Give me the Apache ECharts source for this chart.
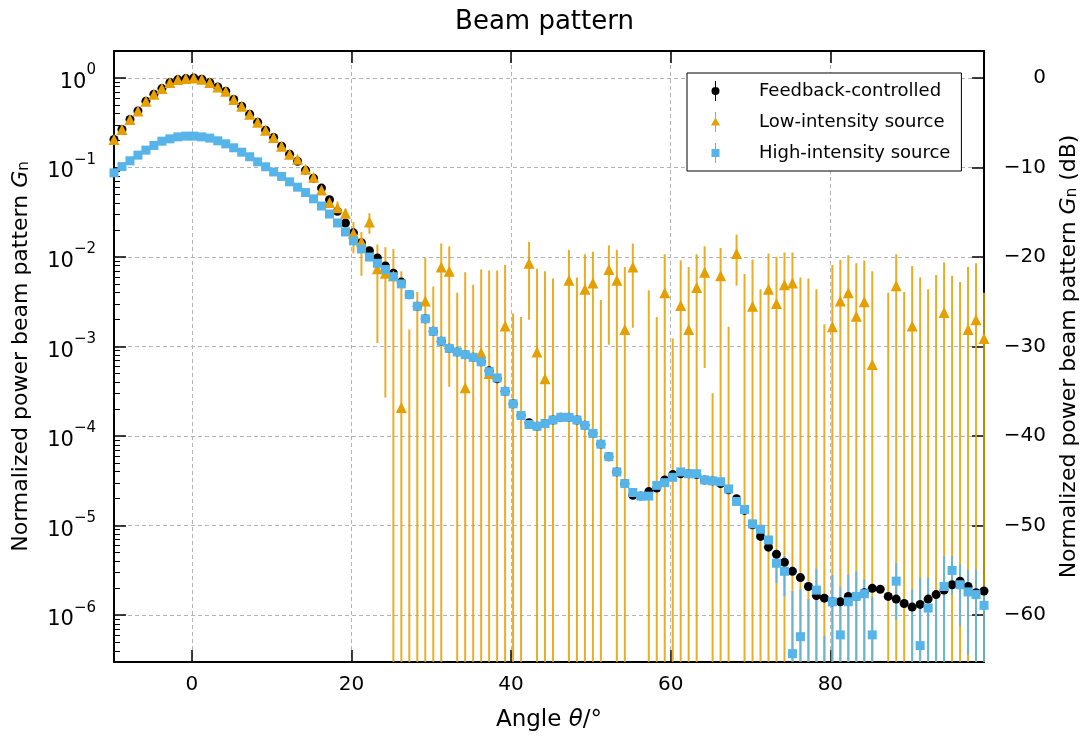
<!DOCTYPE html>
<html>
<head>
<meta charset="utf-8">
<script src="https://cdn.jsdelivr.net/npm/echarts@6/dist/echarts.min.js"></script>
<style>
html, body { margin: 0; padding: 0; background: #fff; }
#chart { width: 1089px; height: 739px; }
</style>
</head>
<body>
<div id="chart"></div>
<script>
// angle of each sample (degrees)
var angles = [
    -9.75, -8.75, -7.75, -6.75, -5.75, -4.75, -3.75, -2.75, -1.75, -0.75,
    0.25, 1.25, 2.25, 3.25, 4.25, 5.25, 6.25, 7.25, 8.25, 9.25,
    10.25, 11.25, 12.25, 13.25, 14.25, 15.25, 16.25, 17.25, 18.25, 19.25,
    20.25, 21.25, 22.25, 23.25, 24.25, 25.25, 26.25, 27.25, 28.25, 29.25,
    30.25, 31.25, 32.25, 33.25, 34.25, 35.25, 36.25, 37.25, 38.25, 39.25,
    40.25, 41.25, 42.25, 43.25, 44.25, 45.25, 46.25, 47.25, 48.25, 49.25,
    50.25, 51.25, 52.25, 53.25, 54.25, 55.25, 56.25, 57.25, 58.25, 59.25,
    60.25, 61.25, 62.25, 63.25, 64.25, 65.25, 66.25, 67.25, 68.25, 69.25,
    70.25, 71.25, 72.25, 73.25, 74.25, 75.25, 76.25, 77.25, 78.25, 79.25,
    80.25, 81.25, 82.25, 83.25, 84.25, 85.25, 86.25, 87.25, 88.25, 89.25,
    90.25, 91.25, 92.25, 93.25, 94.25, 95.25, 96.25, 97.25, 98.25, 99.25
];

// values in dB (read on the right axis); null = not shown
var feedbackDb = [
    -6.87, -5.76, -4.64, -3.68, -2.60, -1.82, -1.19, -0.52, -0.18, -0.07,
    0.00, -0.15, -0.52, -1.00, -1.48, -2.41, -3.16, -4.05, -4.94, -5.83,
    -6.65, -7.62, -8.51, -9.30, -10.3, -11.2, -12.3, -13.6, -14.9, -16.2,
    -17.3, -18.4, -19.3, -20.1, -21.0, -21.8, -22.8, -24.2, -25.5, -26.9,
    -28.3, -29.4, -30.2, -30.6, -30.9, -31.2, -31.7, -32.7, -33.6, -35.0,
    -36.4, -37.7, -38.5, -38.9, -38.6, -38.2, -37.9, -37.9, -38.2, -38.8,
    -39.7, -40.9, -42.3, -44.0, -45.3, -46.6, -46.7, -46.2, -45.8, -44.9,
    -44.3, -44.2, -44.2, -44.3, -44.9, -45.0, -45.3, -46.0, -47.0, -48.3,
    -49.9, -51.2, -52.4, -53.2, -54.1, -55.1, -55.8, -56.8, -57.8, -58.1,
    -58.5, -58.5, -57.9, -57.9, -57.5, -57.0, -57.1, -57.9, -58.2, -58.7,
    -59.1, -58.8, -58.2, -57.7, -57.2, -56.6, -56.2, -56.8, -57.5, -57.3
];

var lowDb = [
    -6.87, -5.76, -4.64, -3.68, -2.60, -1.82, -1.19, -0.52, -0.18, -0.07,
    0.00, -0.15, -0.52, -1.00, -1.48, -2.41, -3.16, -4.05, -4.94, -5.83,
    -6.65, -7.62, -8.51, -9.07, -10.2, -11.1, -12.5, -13.9, -14.5, -15.1,
    -17.35, -18.3, -16.1, -21.3, -21.8, -22.1, -36.8, null, null, -24.9,
    null, -21.1, -21.6, null, -34.6, null, -30.7, -33.0, null, -27.7,
    null, null, -20.7, -30.6, -33.6, null, null, -22.6, null, -23.6,
    -22.9, null, -21.4, -22.6, -28.1, -21.1, null, null, null, -24.0,
    null, -25.4, -28.1, -23.4, -21.7, null, -22.1, null, -19.6, null,
    -25.5, null, -23.6, -25.2, -23.1, -22.9, null, null, null, null,
    -27.8, -24.9, -24.0, -26.6, -25.0, -32.0, null, null, -23.2, null,
    -27.7, null, null, null, -26.2, null, null, -28.1, -27.0, -29.1
];
// error bar ends in dB; bottom null = below the plot
var lowTop = [
    null, null, null, null, null, null, null, null, null, null,
    null, null, null, null, null, null, null, null, null, null,
    null, null, null, null, null, null, null, null, -13.8, -14.6,
    -16.1, -17.2, -15.1, -18.6, -18.9, -19.1, -21.6, -28.1, -23.9, -20.1,
    -23.3, -18.5, -18.8, -24.0, -21.7, -23.1, -21.4, -21.5, -21.5, -20.9,
    -26.3, -26.7, -18.3, -21.3, -21.6, -22.4, null, -19.2, -22.3, -19.7,
    -19.4, -24.8, -18.7, -19.2, -21.1, -18.5, null, -23.7, -26.7, -19.7,
    -29.1, -20.4, -21.1, -19.7, -18.8, -35.2, -19.0, -27.8, -17.5, -21.9,
    -20.3, -23.6, -19.6, -20.0, -19.5, -19.5, -22.3, -22.4, -23.6, -27.5,
    -20.9, -20.3, -19.8, -20.7, -20.4, -21.6, null, -24.0, -19.7, -23.9,
    -21.0, -22.3, -23.6, -22.0, -20.6, -22.1, -22.8, -21.1, -20.7, -24.0
];
var lowBottom = [
    null, null, null, null, null, null, null, null, null, null,
    null, null, null, null, null, null, null, null, null, null,
    null, null, null, null, null, null, null, null, -15.3, -16.4,
    -19.6, -22.1, -17.4, -29.6, -35.7, null, null, null, null, null,
    null, null, -34.5, null, null, null, null, null, null, null,
    null, null, -27.0, null, null, null, null, null, null, null,
    null, null, -29.8, null, null, -27.9, null, null, null, null,
    null, null, null, null, -32.4, null, null, null, -23.2, null,
    null, null, null, null, null, null, null, null, null, null,
    null, null, null, null, null, null, null, null, null, null,
    null, null, null, null, null, null, null, null, null, null
];

var highDb = [
    -10.6, -9.9, -9.25, -8.62, -8.06, -7.54, -7.06, -6.8, -6.58, -6.5,
    -6.5, -6.58, -6.72, -7.02, -7.36, -7.8, -8.29, -8.8, -9.37, -9.92,
    -10.5, -11.0, -11.6, -12.2, -12.8, -13.5, -14.3, -15.2, -16.2, -17.2,
    -18.2, -19.1, -20.0, -20.7, -21.4, -22.2, -23.0, -24.2, -25.5, -26.9,
    -28.3, -29.4, -30.2, -30.6, -30.9, -31.2, -31.7, -32.8, -33.5, -35.0,
    -36.4, -37.7, -38.7, -38.9, -38.6, -38.2, -37.9, -37.9, -38.2, -38.8,
    -39.7, -40.9, -42.3, -44.0, -45.3, -46.3, -46.7, -46.7, -45.5, -45.2,
    -44.6, -44.0, -44.2, -44.2, -44.9, -45.0, -45.1, -45.9, -47.3, -48.2,
    -49.8, -50.4, -51.6, -54.2, -55.1, -64.3, -62.4, null, -57.2, null,
    -58.5, -62.2, -58.5, -57.9, -57.6, -62.2, null, null, -56.2, null,
    null, -63.4, -59.2, null, -56.8, -55.0, -56.6, -57.4, -57.7, -58.9
];
var highTop = [
    null, null, null, null, null, null, null, null, null, null,
    null, null, null, null, null, null, null, null, null, null,
    null, null, null, null, null, null, null, null, null, null,
    null, null, null, null, null, null, null, null, null, null,
    null, null, null, null, null, null, null, null, null, null,
    null, null, null, null, null, null, null, null, null, null,
    null, null, null, null, null, null, null, null, null, null,
    null, null, null, null, null, null, null, null, null, null,
    null, null, null, -53.6, -53.4, -57.3, -57.1, -58.2, -54.8, -62.3,
    -55.5, -56.8, -55.5, -55.1, -56.0, -58.0, null, null, -54.2, null,
    -57.1, -55.8, -55.8, -57.3, -53.4, -53.4, -54.3, -54.9, -54.9, -56.8
];
var highBottom = [
    null, null, null, null, null, null, null, null, null, null,
    null, null, null, null, null, null, null, null, null, null,
    null, null, null, null, null, null, null, null, null, null,
    null, null, null, null, null, null, null, null, null, null,
    null, null, null, null, null, null, null, null, null, null,
    null, null, null, null, null, null, null, null, null, null,
    null, null, null, null, null, null, null, null, null, null,
    null, null, null, null, null, null, null, null, null, null,
    null, null, null, -56.4, -57.9, null, null, null, null, null,
    null, null, null, null, null, null, null, null, -60.5, null,
    null, null, null, null, null, -57.7, -61.2, -64.4, null, null
];

var gMin = 3e-7, gMax = 2;
var dbMin = 10 * Math.log10(gMin), dbMax = 10 * Math.log10(gMax);
var FLOOR = -100;
var FONT = "DejaVu Sans";
var BLACK = "#000000", ORANGE = "#E69F00", BLUE = "#56B4E9";

function points(vals) {
    var out = [];
    vals.forEach(function (v, i) { if (v !== null) out.push([angles[i], v]); });
    return out;
}
function bars(tops, bottoms) {
    var out = [];
    tops.forEach(function (t, i) {
        if (t !== null) out.push([angles[i], t, bottoms[i] === null ? FLOOR : bottoms[i]]);
    });
    return out;
}
function renderBar(params, api) {
    var cs = params.coordSys;
    var p1 = api.coord([api.value(0), api.value(1)]);
    var p2 = api.coord([api.value(0), api.value(2)]);
    var lo = cs.y, hi = cs.y + cs.height;
    var y1 = Math.max(lo, Math.min(hi, p1[1]));
    var y2 = Math.max(lo, Math.min(hi, p2[1]));
    return {
        type: "line",
        shape: { x1: p1[0], y1: y1, x2: p1[0], y2: y2 },
        style: { stroke: api.visual("color"), lineWidth: 2, opacity: 0.85 }
    };
}
function powLabel(v) {
    var e = Math.log10(v), n = Math.round(e);
    if (Math.abs(e - n) > 1e-6) return "";
    return "{b|10}{s|" + (n < 0 ? "\u2212" + (-n) : n) + "}";
}

var gridLine = { show: true, lineStyle: { color: "#b4b4b4", type: [4, 3], width: 1 } };
var frame = { show: true, onZero: false, lineStyle: { color: "#000", width: 2 } };
var majorTick = { show: true, inside: true, length: 12, lineStyle: { color: "#000", width: 1.5 } };
var nameRich = {
    i: { fontFamily: FONT, fontSize: 22, fontStyle: "italic", color: "#000" },
    sub: { fontFamily: FONT, fontSize: 15, color: "#000", verticalAlign: "bottom", padding: [7, 0, 0, 0] }
};

var chart = echarts.init(document.getElementById("chart"));
var option = {
    animation: false,
    backgroundColor: "#fff",
    textStyle: { fontFamily: FONT },
    title: {
        text: "Beam pattern",
        left: "center",
        top: 4,
        textStyle: { fontFamily: FONT, fontSize: 26, fontWeight: "normal", color: "#000" }
    },
    grid: { left: 114, right: 105, top: 51, bottom: 77, outerBoundsMode: "none", containLabel: false },
    legend: {
        orient: "vertical",
        left: 687,
        top: 73,
        padding: [8, 11, 8, 24],
        itemWidth: 9,
        itemHeight: 20,
        itemGap: 11,
        backgroundColor: "#fff",
        borderColor: "#000",
        borderWidth: 1,
        borderRadius: 0,
        textStyle: { fontFamily: FONT, fontSize: 18, color: "#000", padding: [0, 0, 0, 34] },
        data: [
            { name: "Feedback-controlled", icon: "path://M3.5,0H4.5V20H3.5Z M0,10A4,4 0 1 1 8,10A4,4 0 1 1 0,10Z", itemStyle: { color: BLACK } },
            { name: "Low-intensity source", icon: "path://M4,0H5V20H4Z M4.5,5.5L9,13.5H0Z", itemStyle: { color: ORANGE } },
            { name: "High-intensity source", icon: "path://M3.5,0H4.5V20H3.5Z M0,6H8V14H0Z", itemStyle: { color: BLUE } }
        ]
    },
    xAxis: [
        {
            type: "value",
            min: -9.75,
            max: 99.25,
            splitNumber: 5,
            name: "Angle {i|\u03b8}/\u00b0",
            nameLocation: "middle",
            nameGap: 47,
            nameTextStyle: {
                fontFamily: FONT, fontSize: 23, color: "#000",
                rich: { i: { fontFamily: FONT, fontSize: 23, fontStyle: "italic", color: "#000" } }
            },
            axisLine: frame,
            axisTick: majorTick,
            axisLabel: { fontFamily: FONT, fontSize: 20, color: "#000", margin: 13, showMinLabel: false, showMaxLabel: false },
            splitLine: gridLine
        },
        {
            type: "value",
            position: "top",
            min: -9.75,
            max: 99.25,
            splitNumber: 5,
            axisLine: frame,
            axisTick: majorTick,
            axisLabel: { show: false },
            splitLine: { show: false }
        }
    ],
    yAxis: [
        {
            type: "log",
            logBase: 10,
            min: gMin,
            max: gMax,
            splitNumber: 7,
            position: "left",
            name: "Normalized power beam pattern {i|G}{sub|n}",
            nameLocation: "middle",
            nameGap: 82,
            nameRotate: 90,
            nameTextStyle: { fontFamily: FONT, fontSize: 22, color: "#000", rich: nameRich },
            axisLine: frame,
            axisTick: majorTick,
            minorTick: { show: true, splitNumber: 9, length: 6, lineStyle: { color: "#000", width: 1 } },
            axisLabel: {
                margin: 18,
                showMinLabel: false,
                showMaxLabel: false,
                formatter: powLabel,
                rich: {
                    b: { fontFamily: FONT, fontSize: 21, color: "#000", lineHeight: 30, verticalAlign: "bottom" },
                    s: { fontFamily: FONT, fontSize: 15, color: "#000", lineHeight: 30, verticalAlign: "top" }
                }
            },
            splitLine: gridLine
        },
        {
            type: "value",
            min: dbMin,
            max: dbMax,
            splitNumber: 7,
            position: "right",
            name: "Normalized power beam pattern {i|G}{sub|n} (dB)",
            nameLocation: "middle",
            nameGap: 74,
            nameRotate: 90,
            nameTextStyle: { fontFamily: FONT, fontSize: 22, color: "#000", rich: nameRich },
            axisLine: frame,
            axisTick: majorTick,
            axisLabel: {
                margin: 14,
                showMinLabel: false,
                showMaxLabel: false,
                formatter: function (v) {
                    return "{a|" + (v < 0 ? "\u2212" + (-v) : v) + "}";
                },
                rich: { a: { fontFamily: FONT, fontSize: 20, color: "#000", width: 48, align: "right" } }
            },
            splitLine: { show: false }
        }
    ],
    series: [
        {
            name: "Low-intensity source",
            type: "custom",
            xAxisIndex: 0,
            yAxisIndex: 1,
            z: 1,
            itemStyle: { color: ORANGE },
            encode: { x: 0, y: [1, 2] },
            renderItem: renderBar,
            data: bars(lowTop, lowBottom)
        },
        {
            name: "High-intensity source",
            type: "custom",
            xAxisIndex: 0,
            yAxisIndex: 1,
            z: 2,
            itemStyle: { color: BLUE },
            encode: { x: 0, y: [1, 2] },
            renderItem: renderBar,
            data: bars(highTop, highBottom)
        },
        {
            name: "Feedback-controlled",
            type: "scatter",
            xAxisIndex: 0,
            yAxisIndex: 1,
            z: 3,
            symbol: "circle",
            symbolSize: 9,
            itemStyle: { color: BLACK, opacity: 1 },
            data: points(feedbackDb)
        },
        {
            name: "Low-intensity source",
            type: "scatter",
            xAxisIndex: 0,
            yAxisIndex: 1,
            z: 4,
            symbol: "triangle",
            symbolSize: 11,
            itemStyle: { color: ORANGE, opacity: 1 },
            data: points(lowDb)
        },
        {
            name: "High-intensity source",
            type: "scatter",
            xAxisIndex: 0,
            yAxisIndex: 1,
            z: 5,
            symbol: "rect",
            symbolSize: 9,
            itemStyle: { color: BLUE, opacity: 1 },
            data: points(highDb)
        }
    ]
};
chart.setOption(option);
</script>
</body>
</html>
